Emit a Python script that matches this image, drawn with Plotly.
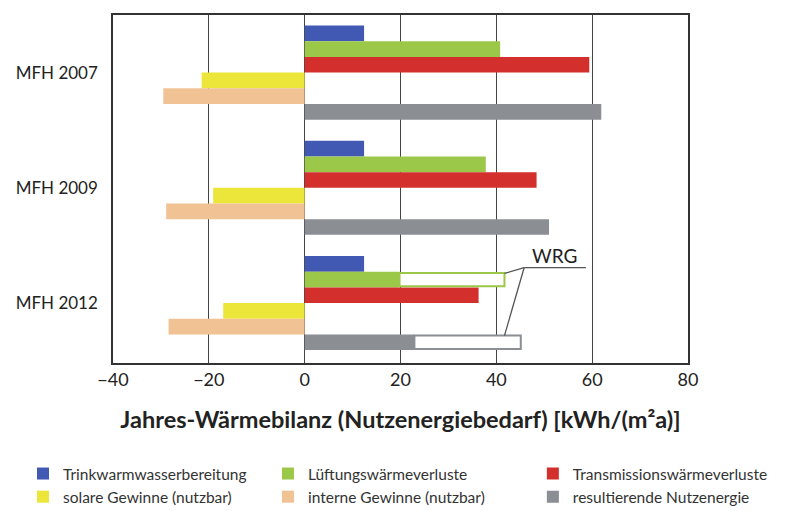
import plotly.graph_objects as go

# ---------------------------------------------------------------------------
# Data (kWh/(m²a))
# ---------------------------------------------------------------------------
categories = ["MFH 2007", "MFH 2009", "MFH 2012"]

trinkwarmwasser = [12.4, 12.4, 12.4]
lueftung = [40.8, 37.8, 19.8]
transmission = [59.4, 48.4, 36.3]
solar = [-21.5, -19.1, -17.0]
intern = [-29.5, -28.9, -28.4]
resultierend = [61.9, 51.0, 22.9]

# values without heat recovery (WRG) – shown as outlined extension
lueftung_ohne_wrg = [None, None, 41.7]
resultierend_ohne_wrg = [None, None, 45.1]

series = [
    ("Trinkwarmwasserbereitung", trinkwarmwasser, "#4159B2", "legend"),
    ("Lüftungswärmeverluste", lueftung, "#9CC84A", "legend2"),
    ("Transmissionswärmeverluste", transmission, "#D3302D", "legend3"),
    ("solare Gewinne (nutzbar)", solar, "#ECE63A", "legend"),
    ("interne Gewinne (nutzbar)", intern, "#F0C294", "legend2"),
    ("resultierende Nutzenergie", resultierend, "#8B8E92", "legend3"),
]

FONT = "Lato"
BAR_W = 0.136
OFF0 = -3 * BAR_W


def slot(i):
    return OFF0 + i * BAR_W


fig = go.Figure()

for i, (name, vals, color, leg) in enumerate(series):
    fig.add_trace(go.Bar(
        y=categories, x=vals, name=name, orientation="h",
        marker=dict(color=color, line=dict(width=0)),
        width=BAR_W, offset=slot(i), legend=leg,
    ))

# outlined WRG parts
for i, solid, full, color in [
    (1, lueftung, lueftung_ohne_wrg, "#9CC84A"),
    (5, resultierend, resultierend_ohne_wrg, "#8B8E92"),
]:
    base = [s if f is not None else None for s, f in zip(solid, full)]
    ext = [(f - s) if f is not None else None for s, f in zip(solid, full)]
    fig.add_trace(go.Bar(
        y=categories, x=ext, base=base, orientation="h",
        marker=dict(color="white", line=dict(color=color, width=2)),
        width=BAR_W - 0.02, offset=slot(i) + 0.01, showlegend=False,
        hoverinfo="skip",
    ))

# leader lines for WRG label
k = 2  # MFH 2012 index
y_line = k + slot(1) - 0.035
x_join = 45.8
line_style = dict(color="#555555", width=1.3)
fig.add_shape(type="line", x0=x_join, x1=58.7, y0=y_line, y1=y_line, line=line_style)
fig.add_shape(type="line", x0=x_join, x1=lueftung_ohne_wrg[k], y0=y_line,
              y1=k + slot(1) + 0.015, line=line_style)
fig.add_shape(type="line", x0=x_join, x1=lueftung_ohne_wrg[k], y0=y_line,
              y1=k + slot(5) + 0.01, line=line_style)
fig.add_annotation(x=52.1, y=y_line, yshift=12.5, text="WRG", showarrow=False,
                   font=dict(family=FONT, size=19, color="#222222"))

legend_common = dict(
    orientation="v", xref="paper", yref="paper",
    xanchor="left", yanchor="top", y=-0.27,
    font=dict(family=FONT, size=15.5, color="#333333"),
    bgcolor="rgba(0,0,0,0)", itemwidth=30, tracegroupgap=0,
)

fig.update_layout(
    barmode="overlay",
    width=795, height=511,
    paper_bgcolor="white", plot_bgcolor="white",
    margin=dict(l=105, r=115, t=7, b=156, autoexpand=False),
    font=dict(family=FONT, size=16, color="#222222"),
    xaxis=dict(
        range=[-40, 80], dtick=20,
        showgrid=True, gridcolor="#444444", gridwidth=1.2,
        zeroline=True, zerolinecolor="#444444", zerolinewidth=1.2,
        showline=True, mirror=True, linecolor="#333333", linewidth=1.5,
        tickfont=dict(family=FONT, size=18, color="#222222"),
        title=dict(text="<b>Jahres-Wärmebilanz (Nutzenergiebedarf) [kWh/(m²a)]</b>",
                   font=dict(family=FONT, size=23.5, color="#222222"), standoff=22),
        fixedrange=True,
    ),
    yaxis=dict(
        range=[2.52, -0.5],
        showgrid=False, zeroline=False,
        showline=True, mirror=True, linecolor="#333333", linewidth=1.5,
        tickfont=dict(family=FONT, size=17, color="#222222"),
        ticklabelstandoff=10,
    ),
    legend=dict(legend_common, x=-0.1565),
    legend2=dict(legend_common, x=0.2695),
    legend3=dict(legend_common, x=0.7302),
)

fig.write_html("out.html")
